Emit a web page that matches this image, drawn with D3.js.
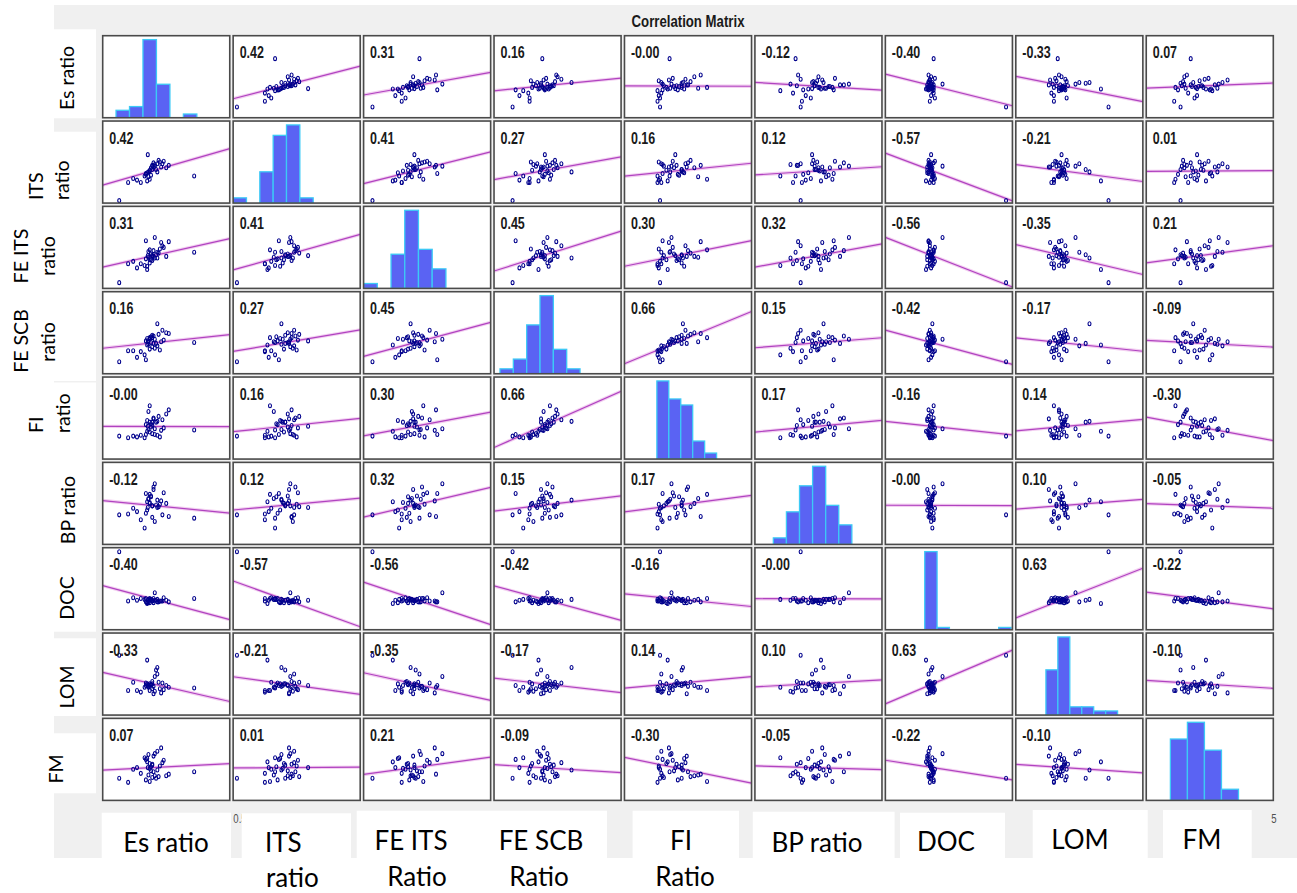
<!DOCTYPE html>
<html>
<head>
<meta charset="utf-8">
<script src="https://cdn.jsdelivr.net/npm/d3@7"></script>
<style>
  body { margin: 0; background: #fff; }
  svg { display: block; }
</style>
</head>
<body>
<svg id="chart" width="1297" height="893"></svg>
<script>
// ---- variables (one value per sample, 36 samples) ----
const variableNames = ["Es ratio", "ITS ratio", "FE ITS ratio", "FE SCB ratio", "FI ratio", "BP ratio", "DOC", "LOM", "FM"];

const esRatio    = [0.10,0.69,0.17,0.325,0.24,0.31,0.27,0.34,0.30,0.36,0.21,0.33,0.38,0.32,0.35,0.42,0.31,0.37,0.34,0.40,0.33,0.36,0.45,0.39,0.32,0.37,0.43,0.35,0.41,0.38,0.47,0.34,0.44,0.40,0.49,0.36];
const itsRatio   = [0.48,0.78,0.70,1.04,0.73,0.81,0.70,0.85,0.78,0.90,0.75,0.83,0.92,0.72,0.88,0.95,0.80,0.89,0.84,0.93,0.77,0.91,0.96,0.86,0.82,0.94,0.89,0.79,0.97,0.90,0.88,0.74,0.93,0.83,0.91,0.86];
const feItsRatio = [0.07,0.44,0.30,0.40,0.25,0.58,0.30,0.35,0.28,0.40,0.33,0.45,0.37,0.23,0.42,0.48,0.36,0.39,0.31,0.44,0.38,0.34,0.50,0.41,0.27,0.46,0.56,0.35,0.43,0.62,0.39,0.47,0.52,0.37,0.57,0.40];
const feScbRatio = [0.146,0.38,0.28,0.40,0.20,0.17,0.27,0.30,0.23,0.33,0.28,0.36,0.31,0.35,0.38,0.29,0.40,0.37,0.42,0.34,0.39,0.44,0.41,0.37,0.43,0.46,0.39,0.45,0.48,0.42,0.50,0.44,0.53,0.61,0.49,0.47];
const fiRatio    = [1.28,1.355,1.26,1.40,1.27,1.30,1.29,1.33,1.26,1.31,1.28,1.36,1.30,1.34,1.39,1.27,1.42,1.49,1.45,1.29,1.58,1.41,1.38,1.45,1.47,1.50,1.35,1.43,1.52,1.37,1.55,1.65,1.48,1.46,1.60,1.45];
const bpRatio    = [0.36,0.32,0.37,0.45,0.40,0.62,0.30,0.50,0.20,0.47,0.44,0.55,0.28,0.52,0.59,0.49,0.38,0.67,0.51,0.45,0.56,0.33,0.63,0.48,0.42,0.70,0.53,0.58,0.46,0.74,0.50,0.61,0.36,0.54,0.34,0.47];
const doc        = [95,38,35,36,36,34,38,33,37,35,39,34,36,32,37,35,38,33,36,34,37,35,39,36,33,38,35,37,34,45,36,38,35,37,34,36];
const lom        = [73,33,30,36,30,36,28,38,34,32,40,35,29,67,37,32,39,26,36,50,34,41,31,55,38,35,27,37,40,47,36,30,39,58,34,38];
const fm         = [1.35,1.75,1.10,2.00,2.00,2.50,1.65,2.25,2.60,1.40,1.90,2.80,1.50,2.35,1.80,2.10,1.25,2.70,1.95,3.00,1.55,2.20,2.45,1.35,2.55,1.75,3.20,2.05,1.45,2.85,1.50,1.15,2.30,1.85,1.60,2.15];

// axis ranges of each variable
const domains = [[-0.03,0.97],[0.45,1.45],[0,1],[0,1],[1,2],[0,1],[0,100],[0,100],[0,5]];

// histogram bin edges on the diagonal
const esBins    = [0.075,0.181,0.287,0.393,0.499,0.605,0.711];
const itsBins   = [0.45,0.555,0.66,0.765,0.87,0.975,1.08];
const feItsBins = [0,0.108,0.216,0.324,0.432,0.54,0.648];
const feScbBins = [0.047,0.152,0.257,0.362,0.467,0.572,0.677];
const fiBins    = [1.255,1.349,1.443,1.537,1.631,1.725];
const bpBins    = [0.145,0.248,0.351,0.454,0.557,0.66,0.763];
const docBins   = [31,40.7,50.4,60.1,69.8,79.5,89.2,98.9];
const lomBins   = [23.7,33.1,42.5,51.9,61.3,70.7,80.1];
const fmBins    = [0.95,1.62,2.29,2.96,3.63];

// tick labels of the bottom axes (most sit under the caption boxes)
const tickValues = [[0],[0.5],[],[],[],[],[],[],[5]];

// Pearson correlation coefficients (printed in each panel)
const correlations = [
  [ 1.00,  0.42,  0.31,  0.16, -0.004, -0.12, -0.40, -0.33,  0.07],
  [ 0.42,  1.00,  0.41,  0.27,  0.16,  0.12, -0.57, -0.21,  0.01],
  [ 0.31,  0.41,  1.00,  0.45,  0.30,  0.32, -0.56, -0.35,  0.21],
  [ 0.16,  0.27,  0.45,  1.00,  0.66,  0.15, -0.42, -0.17, -0.09],
  [-0.004, 0.16,  0.30,  0.66,  1.00,  0.17, -0.16,  0.14, -0.30],
  [-0.12,  0.12,  0.32,  0.15,  0.17,  1.00, -0.004, 0.10, -0.05],
  [-0.40, -0.57, -0.56, -0.42, -0.16, -0.004, 1.00,  0.63, -0.22],
  [-0.33, -0.21, -0.35, -0.17,  0.14,  0.10,  0.63,  1.00, -0.10],
  [ 0.07,  0.01,  0.21, -0.09, -0.30, -0.05, -0.22, -0.10,  1.00]
];

const rowLabels = [
  [{t:"Es ratio", x:74, y:78, a:"middle"}],
  [{t:"ITS", x:43, y:200, a:"start"}, {t:"ratio", x:69, y:200, a:"start"}],
  [{t:"FE ITS", x:28, y:256, a:"middle"}, {t:"ratio", x:55, y:256, a:"middle"}],
  [{t:"FE SCB", x:28, y:341, a:"middle"}, {t:"ratio", x:55, y:342, a:"middle"}],
  [{t:"FI", x:43, y:433, a:"start"}, {t:"ratio", x:70, y:433, a:"start"}],
  [{t:"BP ratio", x:75, y:510, a:"middle"}],
  [{t:"DOC", x:74, y:598, a:"middle"}],
  [{t:"LOM", x:74, y:687, a:"middle"}],
  [{t:"FM", x:63, y:769, a:"middle"}]
];
const colLabels = [
  [{t:"Es ratio", x:166, y:851.7, a:"middle"}],
  [{t:"ITS", x:265, y:851.7, a:"start"}, {t:"ratio", x:266, y:886.5, a:"start"}],
  [{t:"FE ITS", x:411, y:849.5, a:"middle"}, {t:"Ratio", x:417, y:886, a:"middle"}],
  [{t:"FE SCB", x:541, y:849.5, a:"middle"}, {t:"Ratio", x:539, y:886, a:"middle"}],
  [{t:"FI", x:681, y:849.5, a:"middle"}, {t:"Ratio", x:685, y:886, a:"middle"}],
  [{t:"BP ratio", x:817, y:851.5, a:"middle"}],
  [{t:"DOC", x:946, y:851, a:"middle"}],
  [{t:"LOM", x:1080, y:849, a:"middle"}],
  [{t:"FM", x:1202, y:849, a:"middle"}]
];

const columns = [esRatio, itsRatio, feItsRatio, feScbRatio, fiRatio, bpRatio, doc, lom, fm];
const binEdges = [esBins, itsBins, feItsBins, feScbBins, fiBins, bpBins, docBins, lomBins, fmBins];
const N = columns.length;

// ---- drawing ----
const svg = d3.select("#chart");
const W = 1297, H = 893;
svg.append("rect").attr("width", W).attr("height", H).attr("fill", "#fff");
svg.append("rect").attr("x", 54).attr("y", 5).attr("width", W - 54).attr("height", 853).attr("fill", "#f0f0f0");

const colBand = d3.scaleBand().domain(d3.range(N)).range([102.7, 1273.3]).paddingInner(0.026);
const rowBand = d3.scaleBand().domain(d3.range(N)).range([35.7, 800.4]).paddingInner(0.0387);
const bw = colBand.bandwidth(), bh = rowBand.bandwidth();

const xScales = columns.map((_, j) => d3.scaleLinear().domain(domains[j]).range([colBand(j), colBand(j) + bw]));
const yScales = columns.map((_, i) => d3.scaleLinear().domain(domains[i]).range([rowBand(i) + bh, rowBand(i)]));

// title
svg.append("text")
  .attr("transform", "translate(688,26.5) scale(0.8,1)")
  .attr("text-anchor", "middle")
  .attr("font-family", "Liberation Sans, Arial, sans-serif")
  .attr("font-weight", "bold").attr("font-size", 16.5).attr("fill", "#1a1a1a")
  .text("Correlation Matrix");

const defs = svg.append("defs");

for (let i = 0; i < N; i++) {
  for (let j = 0; j < N; j++) {
    const x0 = colBand(j), y0 = rowBand(i);
    const g = svg.append("g");
    g.append("rect").attr("x", x0).attr("y", y0).attr("width", bw).attr("height", bh)
      .attr("fill", "#fff");

    const clipId = `clip-${i}-${j}`;
    defs.append("clipPath").attr("id", clipId)
      .append("rect").attr("x", x0).attr("y", y0).attr("width", bw).attr("height", bh);
    const inner = g.append("g").attr("clip-path", `url(#${clipId})`);

    if (i === j) {
      const edges = binEdges[i];
      const bins = d3.bin()
        .domain([edges[0], edges[edges.length - 1]])
        .thresholds(edges.slice(1, -1))(columns[i]);
      const xs = xScales[j];
      const yh = d3.scaleLinear()
        .domain([0, d3.max(bins, b => b.length) * 1.05])
        .range([y0 + bh, y0]);
      inner.selectAll("rect.bar").data(bins).join("rect")
        .attr("class", "bar")
        .attr("x", b => xs(b.x0))
        .attr("width", b => xs(b.x1) - xs(b.x0))
        .attr("y", b => yh(b.length))
        .attr("height", b => y0 + bh - yh(b.length))
        .attr("fill", "#5a63f3")
        .attr("stroke", "#3ccaf6")
        .attr("stroke-width", 1.3);
    } else {
      const xs = xScales[j], ys = yScales[i];
      const xv = columns[j], yv = columns[i];
      const r = correlations[i][j];

      g.append("text")
        .attr("transform", `translate(${x0 + 6.5},${y0 + 22.6}) scale(0.78,1)`)
        .attr("font-family", "Liberation Sans, Arial, sans-serif")
        .attr("font-weight", "bold").attr("font-size", 16).attr("fill", "#1a1a1a")
        .text(r.toFixed(2));

      // least-squares line drawn from the printed coefficient
      const mx = d3.mean(xv), my = d3.mean(yv);
      const slope = r * d3.deviation(yv) / d3.deviation(xv);
      const [d0, d1] = domains[j];
      const pts = [d0, d1].map(x => [xs(x), ys(my + slope * (x - mx))]);
      inner.append("line")
        .attr("x1", pts[0][0]).attr("y1", pts[0][1]).attr("x2", pts[1][0]).attr("y2", pts[1][1])
        .attr("stroke", "#f0c4ee").attr("stroke-width", 3.4).attr("opacity", 0.8);
      inner.append("line")
        .attr("x1", pts[0][0]).attr("y1", pts[0][1]).attr("x2", pts[1][0]).attr("y2", pts[1][1])
        .attr("stroke", "#b043c0").attr("stroke-width", 1.2);

      inner.selectAll("ellipse").data(d3.range(xv.length)).join("ellipse")
        .attr("cx", k => xs(xv[k]))
        .attr("cy", k => ys(yv[k]))
        .attr("rx", 1.5).attr("ry", 2.0)
        .attr("fill", "none")
        .attr("stroke", "#00008c")
        .attr("stroke-width", 1.1);
    }

    g.append("rect").attr("x", x0).attr("y", y0).attr("width", bw).attr("height", bh)
      .attr("fill", "none").attr("stroke", "#4a4a4a").attr("stroke-width", 1.6);
  }
}

// bottom tick labels
for (let j = 0; j < N; j++) {
  if (!tickValues[j].length) continue;
  const ax = svg.append("g")
    .attr("transform", `translate(0,${rowBand(N - 1) + bh})`)
    .call(d3.axisBottom(xScales[j]).tickValues(tickValues[j]).tickSize(0).tickPadding(14).tickFormat(d3.format("~g")));
  ax.select(".domain").remove();
  ax.selectAll("text")
    .attr("font-family", "Liberation Sans, Arial, sans-serif")
    .attr("font-size", 12).attr("fill", "#505050")
    .attr("transform", "scale(0.8,1)");
}

// caption boxes laid over the outer axes
const leftBoxes = [[54,29.3,96,118.3],[0,131.7,96,381],[0,382.5,96,631.7],[0,638.3,96,716],[54,733.3,96,793.3]];
const bottomBoxes = [[101.7,812.7,231],[241.7,813.3,351],[356.7,810.7,486],[486,810.7,607],[632.6,810.7,739],[752.8,811.7,894.6],[900,812.7,1005],[1032.7,810,1147.7],[1163,810,1251.7]];
svg.append("g").selectAll("rect").data(leftBoxes).join("rect")
  .attr("x", d => d[0]).attr("y", d => d[1]).attr("width", d => d[2] - d[0]).attr("height", d => d[3] - d[1])
  .attr("fill", "#fff");
svg.append("g").selectAll("rect").data(bottomBoxes).join("rect")
  .attr("x", d => d[0]).attr("y", d => d[1]).attr("width", d => d[2] - d[0]).attr("height", d => 858 - d[1])
  .attr("fill", "#fff");

svg.append("g").selectAll("text").data(rowLabels.flat()).join("text")
  .attr("transform", d => `translate(${d.x},${d.y}) rotate(-90)`)
  .attr("text-anchor", d => d.a)
  .attr("font-family", "Lato, 'Open Sans', sans-serif")
  .attr("font-size", 19.5).attr("fill", "#000")
  .text(d => d.t);

svg.append("g").selectAll("text").data(colLabels.flat()).join("text")
  .attr("x", d => d.x).attr("y", d => d.y)
  .attr("text-anchor", d => d.a)
  .attr("font-family", "Lato, 'Open Sans', sans-serif")
  .attr("font-size", 26).attr("fill", "#000")
  .text(d => d.t);
</script>
</body>
</html>
